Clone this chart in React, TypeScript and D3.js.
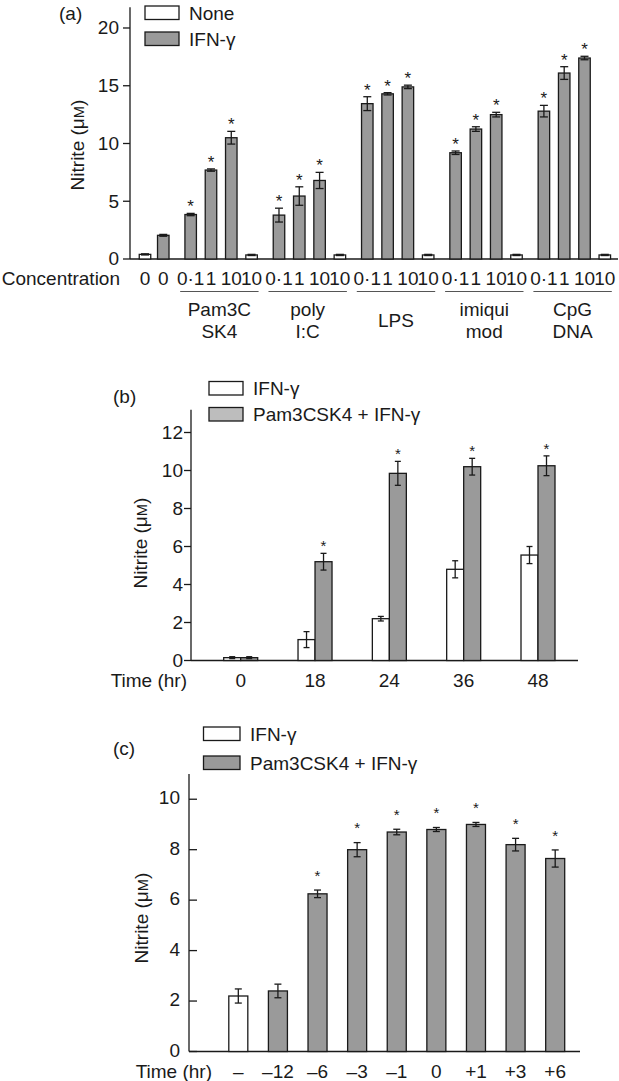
import { useEffect, useRef } from "react";
import * as d3 from "d3";

// panel (a) : nitrite vs TLR ligand concentration
const aControlLabels = ["0", "0"];
const aControlValues = [0.4, 2.05];
const aControlErrors = [0.05, 0.08];
const aConcLabels = ["0·1", "1", "10", "10"];
const aGroupNames = [["Pam3C", "SK4"], ["poly", "I:C"], ["LPS"], ["imiqui", "mod"], ["CpG", "DNA"]];
const aGroupValues = [
  [3.85, 7.7, 10.5, 0.35],
  [3.8, 5.45, 6.8, 0.35],
  [13.45, 14.3, 14.9, 0.35],
  [9.2, 11.25, 12.5, 0.35],
  [12.8, 16.1, 17.4, 0.35],
];
const aGroupErrors = [
  [0.1, 0.1, 0.55, 0.05],
  [0.6, 0.8, 0.7, 0.05],
  [0.6, 0.1, 0.15, 0.05],
  [0.15, 0.2, 0.2, 0.05],
  [0.5, 0.55, 0.15, 0.05],
];
const aTicks = [0, 5, 10, 15, 20];

// panel (b) : time course
const bTimes = ["0", "18", "24", "36", "48"];
const bIfn = [0.15, 1.1, 2.2, 4.8, 5.55];
const bIfnErr = [0.05, 0.42, 0.12, 0.45, 0.45];
const bPam = [0.15, 5.2, 9.85, 10.2, 10.25];
const bPamErr = [0.05, 0.44, 0.63, 0.44, 0.52];
const bTicks = [0, 2, 4, 6, 8, 10, 12];

// panel (c) : timing of Pam3CSK4 addition
const cTimes = ["–", "–12", "–6", "–3", "–1", "0", "+1", "+3", "+6"];
const cValues = [2.2, 2.4, 6.25, 8.0, 8.7, 8.8, 9.0, 8.2, 7.65];
const cErrors = [0.28, 0.27, 0.15, 0.28, 0.11, 0.08, 0.08, 0.25, 0.34];
const cTicks = [0, 2, 4, 6, 8, 10];

const FONT = "'Liberation Sans', Arial, Helvetica, sans-serif";
const GREY = "#9a9a9a";
const GREY_LIGHT = "#bdbdbd";
const INK = "#1a1a1a";

type Bar = { x: number; w: number; v: number; e: number; fill: string; star: boolean };

const drawBars = (g, bars: Bar[], y, cap: number, starGap: number, starSize: number) => {
  g.selectAll(null)
    .data(bars)
    .join("rect")
    .attr("x", d => d.x - d.w / 2)
    .attr("y", d => y(d.v))
    .attr("width", d => d.w)
    .attr("height", d => y(0) - y(d.v))
    .attr("fill", d => d.fill)
    .attr("stroke", INK)
    .attr("stroke-width", 1.3);

  const err = g.selectAll(null).data(bars).join("g").attr("stroke", INK).attr("stroke-width", 1.3);
  err.append("line")
    .attr("x1", d => d.x).attr("x2", d => d.x)
    .attr("y1", d => y(d.v + d.e)).attr("y2", d => y(d.v - d.e));
  err.append("line")
    .attr("x1", d => d.x - cap).attr("x2", d => d.x + cap)
    .attr("y1", d => y(d.v + d.e)).attr("y2", d => y(d.v + d.e));
  err.append("line")
    .attr("x1", d => d.x - cap).attr("x2", d => d.x + cap)
    .attr("y1", d => y(d.v - d.e)).attr("y2", d => y(d.v - d.e));

  g.selectAll(null)
    .data(bars.filter(d => d.star))
    .join("text")
    .attr("x", d => d.x)
    .attr("y", d => y(d.v + d.e) - starGap + starSize * 0.58)
    .attr("text-anchor", "middle")
    .attr("font-size", starSize)
    .text("*");
};

const drawYAxis = (g, y, ticks: number[], x0: number, inward: boolean, labelX: number, dy = "0.33em") => {
  g.append("line")
    .attr("x1", x0).attr("x2", x0)
    .attr("y1", y(0)).attr("y2", y(y.domain()[1]))
    .attr("stroke", INK).attr("stroke-width", 1.3);
  const t = g.selectAll(null).data(ticks).join("g");
  t.append("line")
    .attr("x1", x0).attr("x2", inward ? x0 + 8 : x0 - 7)
    .attr("y1", d => y(d)).attr("y2", d => y(d))
    .attr("stroke", INK).attr("stroke-width", 1.3);
  t.append("text")
    .attr("x", labelX)
    .attr("y", d => y(d))
    .attr("dy", dy)
    .attr("text-anchor", "end")
    .text(d => d);
};

const yTitle = (g, x: number, y: number) => {
  const t = g.append("text")
    .attr("transform", `translate(${x},${y}) rotate(-90)`)
    .attr("dy", "0.36em")
    .attr("text-anchor", "middle");
  t.append("tspan").text("Nitrite (μ");
  t.append("tspan").attr("font-size", "0.78em").text("M");
  t.append("tspan").text(")");
};

const legend = (g, x: number, ys: number[], names: string[], fills: string[], rw: number) => {
  names.forEach((n, i) => {
    g.append("rect")
      .attr("x", x).attr("y", ys[i] - 13.5)
      .attr("width", rw).attr("height", 13.5)
      .attr("fill", fills[i]).attr("stroke", INK).attr("stroke-width", 1.3);
    g.append("text").attr("x", x + rw + 10).attr("y", ys[i]).text(n);
  });
};

const drawPanelA = (svg) => {
  const g = svg.append("g");
  const y = d3.scaleLinear().domain([0, 21.8]).range([259, 7.2]);

  // slot positions : two controls then five groups of four, with wider gaps between groups
  const slots: number[] = [0, 0.9];
  aGroupValues.forEach((grp, gi) => grp.forEach((_, j) => slots.push(0.9 + 1.35 + gi * 4.35 + j)));
  const x = d3.scaleLinear().domain([0, d3.max(slots)]).range([145, 604.8]);

  const bars: Bar[] = [];
  aControlValues.forEach((v, i) => bars.push({ x: x(slots[i]), w: 11.5, v, e: aControlErrors[i], fill: i === 0 ? "#fff" : GREY, star: false }));
  aGroupValues.forEach((grp, gi) => grp.forEach((v, j) => bars.push({
    x: x(slots[2 + gi * 4 + j]), w: 11.5, v, e: aGroupErrors[gi][j], fill: j === 3 ? "#fff" : GREY, star: j < 3,
  })));

  drawYAxis(g, y, aTicks, 130, false, 119);
  g.append("line").attr("x1", 130).attr("x2", 618).attr("y1", y(0)).attr("y2", y(0))
    .attr("stroke", INK).attr("stroke-width", 1.3);
  drawBars(g, bars, y, 4, 11, 17);

  // tick labels
  const labels = [...aControlLabels, ...aGroupValues.flatMap(() => aConcLabels)];
  g.selectAll(null).data(bars).join("text")
    .attr("x", d => d.x).attr("y", 285).attr("text-anchor", "middle")
    .text((_, i) => labels[i]);
  g.append("text").attr("x", 120).attr("y", 285).attr("text-anchor", "end").text("Concentration");

  // group underlines + names
  aGroupNames.forEach((name, gi) => {
    const x1 = x(slots[2 + gi * 4]) - 10.5;
    const x2 = x(slots[2 + gi * 4 + 3]) + 7;
    g.append("line").attr("x1", x1).attr("x2", x2).attr("y1", 291.5).attr("y2", 291.5)
      .attr("stroke", "#555").attr("stroke-width", 1.2);
    const cx = (x1 + x2) / 2;
    if (name.length === 1) {
      g.append("text").attr("x", cx).attr("y", 327).attr("text-anchor", "middle").text(name[0]);
    } else {
      name.forEach((n, k) => g.append("text").attr("x", cx).attr("y", 316 + k * 21.5).attr("text-anchor", "middle").text(n));
    }
  });

  yTitle(g, 77, 145);
  g.append("text").attr("x", 59).attr("y", 20).text("(a)");
  legend(g, 145, [19.5, 45.5], ["None", "IFN-γ"], ["#fff", GREY], 34);
};

const drawPanelB = (svg) => {
  const g = svg.append("g");
  const y = d3.scaleLinear().domain([0, 13.2]).range([660.5, 409.7]);
  const x = d3.scalePoint().domain(bTimes).range([240.7, 538]);
  const w = 17;

  const bars: Bar[] = [];
  bTimes.forEach((t, i) => {
    bars.push({ x: x(t) - w / 2, w, v: bIfn[i], e: bIfnErr[i], fill: "#fff", star: false });
    bars.push({ x: x(t) + w / 2, w, v: bPam[i], e: bPamErr[i], fill: GREY, star: i > 0 });
  });

  drawYAxis(g, y, bTicks, 191, false, 183);
  g.append("line").attr("x1", 191).attr("x2", 578).attr("y1", y(0)).attr("y2", y(0))
    .attr("stroke", INK).attr("stroke-width", 1.3);
  drawBars(g, bars, y, 3, 11, 15);

  g.selectAll(null).data(bTimes).join("text")
    .attr("x", d => x(d)).attr("y", 687).attr("text-anchor", "middle").text(d => d);
  g.append("text").attr("x", 187).attr("y", 687).attr("text-anchor", "end").text("Time (hr)");

  yTitle(g, 140, 543);
  g.append("text").attr("x", 113).attr("y", 403).text("(b)");
  legend(g, 209, [395, 421], ["IFN-γ", "Pam3CSK4 + IFN-γ"], ["#fff", GREY_LIGHT], 34);
};

const drawPanelC = (svg) => {
  const g = svg.append("g");
  const y = d3.scaleLinear().domain([0, 11]).range([1051.5, 774]);
  const x = d3.scaleBand().domain(cTimes).range([218.5, 575]).paddingInner(0.52).paddingOuter(0.26);

  const bars: Bar[] = cTimes.map((t, i) => ({
    x: x(t) + x.bandwidth() / 2, w: x.bandwidth(), v: cValues[i], e: cErrors[i],
    fill: i === 0 ? "#fff" : GREY, star: i > 1,
  }));

  drawYAxis(g, y, cTicks, 189, true, 180, "0.27em");
  g.append("line").attr("x1", 189).attr("x2", 580).attr("y1", y(0)).attr("y2", y(0))
    .attr("stroke", INK).attr("stroke-width", 1.3);
  drawBars(g, bars, y, 3.5, 18, 15);

  g.selectAll(null).data(cTimes).join("text")
    .attr("x", d => x(d) + x.bandwidth() / 2).attr("y", 1078).attr("text-anchor", "middle").text(d => d);
  g.append("text").attr("x", 212).attr("y", 1078).attr("text-anchor", "end").text("Time (hr)");

  yTitle(g, 141, 918);
  g.append("text").attr("x", 113).attr("y", 755).text("(c)");
  legend(g, 203.5, [740.5, 769.5], ["IFN-γ", "Pam3CSK4 + IFN-γ"], ["#fff", GREY], 36.5);
};

export default function App() {
  const ref = useRef<SVGSVGElement>(null);

  useEffect(() => {
    const svg = d3.select(ref.current);
    svg.selectAll("*").remove();
    drawPanelA(svg);
    drawPanelB(svg);
    drawPanelC(svg);
  }, []);

  return (
    <svg
      ref={ref}
      width={619}
      height={1081}
      style={{ position: "absolute", left: 0, top: 0, background: "#fff" }}
      fontFamily={FONT}
      fontSize={19}
      fill={INK}
    />
  );
}
